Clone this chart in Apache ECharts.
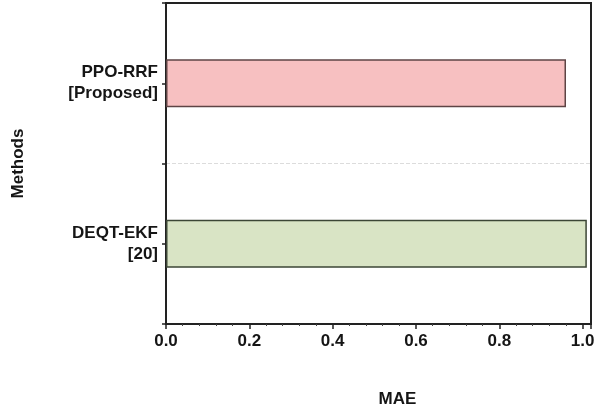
<!DOCTYPE html>
<html>
<head>
<meta charset="utf-8">
<script src="https://cdn.jsdelivr.net/npm/echarts@6/dist/echarts.min.js"></script>
<style>html,body{margin:0;padding:0;background:#fff;}#c{width:594px;height:404px;}</style>
</head>
<body>
<div id="c"></div>
<script>
const categories = ['DEQT-EKF\n[20]', 'PPO-RRF\n[Proposed]'];
const maeValues = [1.01, 0.96];
const barColors = ['#d9e4c5', '#f7c0c1'];
const barBorders = ['#3c4636', '#5e4445'];
const xTicks = [0, 0.2, 0.4, 0.6, 0.8, 1.0];

const chart = echarts.init(document.getElementById('c'));
const font = 'Liberation Sans, Arial, sans-serif';
const txt = '#151515';
chart.setOption({
  animation: false,
  grid: { left: 166, right: 3, top: 3, bottom: 80, containLabel: false, outerBoundsMode: 'none',
    show: true, borderColor: '#222', borderWidth: 2, backgroundColor: 'transparent' },
  xAxis: {
    type: 'value', min: 0, max: 1.02, interval: 0.2,
    name: 'MAE', nameLocation: 'middle', nameGap: 67,
    nameTextStyle: { fontFamily: font, fontWeight: 'bold', fontSize: 17, color: txt, align: 'left' },
    axisLine: { show: true, lineStyle: { color: '#222', width: 2 } },
    axisTick: { show: true, length: 5, lineStyle: { color: '#222', width: 1.5 } },
    minorTick: { show: true, splitNumber: 5, length: 2, lineStyle: { color: '#444', width: 1 } },
    axisLabel: { fontFamily: font, fontWeight: 'bold', fontSize: 17, color: txt, margin: 9,
      formatter: v => xTicks.some(t => Math.abs(t - v) < 1e-9) ? v.toFixed(1) : '' },
    splitLine: { show: false }
  },
  yAxis: [{
    type: 'category', data: categories,
    name: 'Methods', nameLocation: 'middle', nameGap: 139, nameRotate: 90,
    nameTextStyle: { fontFamily: font, fontWeight: 'bold', fontSize: 17, color: txt },
    axisLine: { show: true, lineStyle: { color: '#222', width: 2 } },
    axisTick: { show: true, alignWithLabel: true, length: 4, lineStyle: { color: '#222', width: 1.5 } },
    axisLabel: { fontFamily: font, fontWeight: 'bold', fontSize: 17, color: txt, margin: 8, lineHeight: 21, align: 'right' },
    splitLine: { show: true, interval: 0, showMinLine: false, showMaxLine: false, lineStyle: { color: '#dcdcdc', width: 1, type: 'dashed' } }
  }, {
    type: 'category', data: categories, position: 'left',
    axisLine: { show: false },
    axisTick: { show: true, alignWithLabel: false, length: 4, lineStyle: { color: '#222', width: 1.5 } },
    axisLabel: { show: false },
    splitLine: { show: false }
  }],
  series: [{
    type: 'bar', xAxisIndex: 0, yAxisIndex: 0, barWidth: 48,
    data: maeValues.map((v, i) => ({ value: v, itemStyle: { color: barColors[i], borderColor: barBorders[i], borderWidth: 1.5 } }))
  }]
});

// Frame the plot area using the grid's own rectangle from the library
let rect = null;
try {
  rect = chart.getModel().getComponent('grid', 0).coordinateSystem.getRect();
} catch (e) { rect = null; }
if (rect) {
  chart.setOption({
    graphic: [{
      type: 'polyline', z: 100, silent: true,
      shape: { points: [[rect.x, rect.y], [rect.x + rect.width, rect.y], [rect.x + rect.width, rect.y + rect.height]] },
      style: { stroke: '#222', lineWidth: 2, fill: null }
    }]
  });
}
</script>
</body>
</html>
